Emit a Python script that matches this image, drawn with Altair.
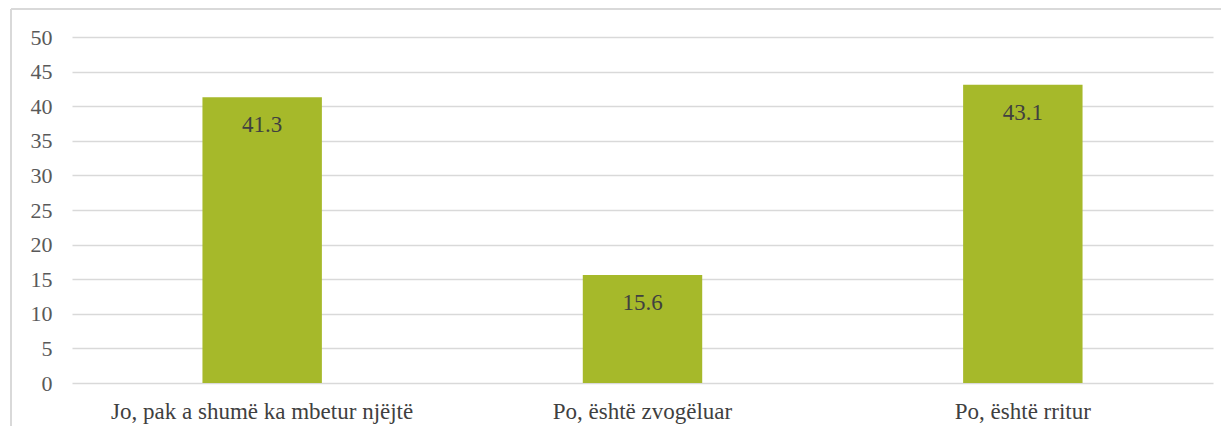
import altair as alt
import pandas as pd

categories = ["Jo, pak a shumë ka mbetur njëjtë", "Po, është zvogëluar", "Po, është rritur"]
values = [41.3, 15.6, 43.1]
y_ticks = [0, 5, 10, 15, 20, 25, 30, 35, 40, 45, 50]

df = pd.DataFrame({"cat": categories, "val": values})

FONT = "Times New Roman, Liberation Serif, serif"
FS_Y = 22
FS_X = 23
W, H = 1141, 346

x_scale = alt.Scale(paddingInner=0.686, paddingOuter=0.343)
y_scale = alt.Scale(domain=[0, 50], nice=False)

x_axis = alt.Axis(title=None, labelAngle=0, labelFont=FONT, labelFontSize=FS_X,
                  labelColor="#404040", labelPadding=17, ticks=False,
                  domain=False, grid=False, labelLimit=0)
y_axis = alt.Axis(title=None, values=y_ticks, labelFont=FONT, labelFontSize=FS_Y,
                  labelColor="#595959", labelPadding=20, ticks=False,
                  labelOverlap=False,
                  domain=False, gridColor="#D9D9D9", gridWidth=1.3)

bars = alt.Chart(df).mark_bar(color="#A6B92A").encode(
    x=alt.X("cat:N", sort=categories, scale=x_scale, axis=x_axis),
    y=alt.Y("val:Q", scale=y_scale, axis=y_axis))
labels = alt.Chart(df).mark_text(font=FONT, fontSize=FS_X, color="#404040",
                                 baseline="middle", dy=28).encode(
    x=alt.X("cat:N", sort=categories, scale=x_scale, axis=x_axis),
    y=alt.Y("val:Q", scale=y_scale, axis=y_axis),
    text=alt.Text("val:Q", format=".1f"))

border_left = alt.Chart(df).mark_rule(color="#D9D9D9", strokeWidth=1.5, clip=False).encode(
    x=alt.value(-61), y=alt.value(-28), y2=alt.value(H + 60))
border_top = alt.Chart(df).mark_rule(color="#D9D9D9", strokeWidth=1.5, clip=False).encode(
    x=alt.value(-61), x2=alt.value(W + 8), y=alt.value(-28))

chart = alt.layer(bars, labels, border_left, border_top).properties(
    width=W, height=H,
    autosize=alt.AutoSizeParams(type="none"),
    padding={"left": 64, "top": 29, "right": 8, "bottom": 43},
).configure_view(stroke=None).configure_axis(
    labelFont=FONT
).configure_text(font=FONT)

chart.save("out.html", embed_options={"renderer": "svg", "actions": False})
